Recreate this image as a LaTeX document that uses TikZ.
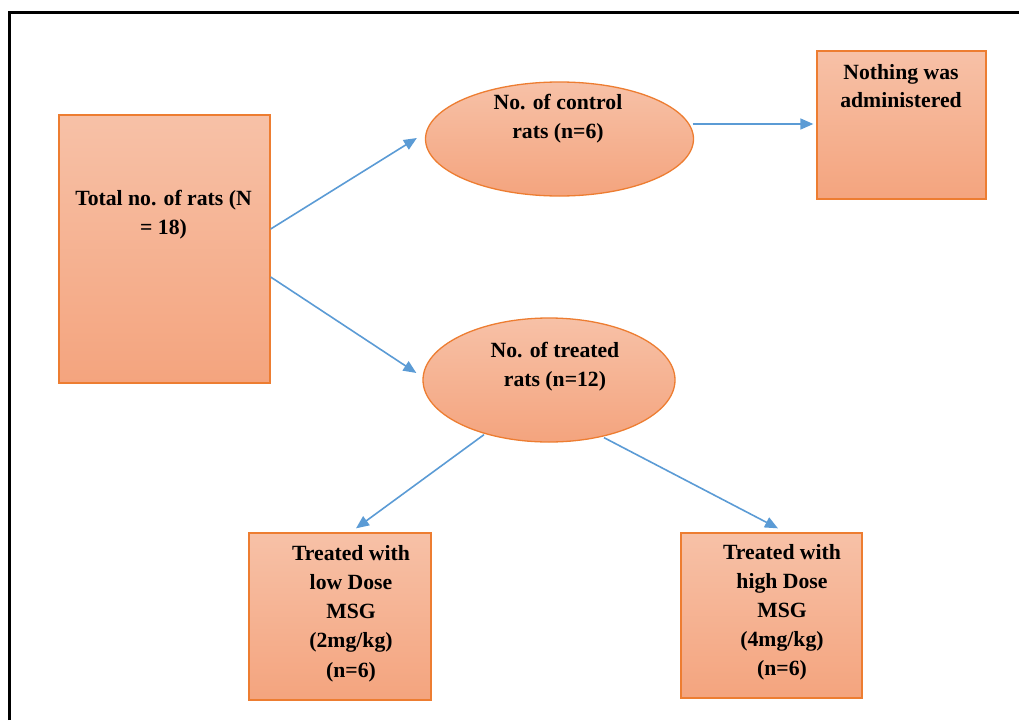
\documentclass[tikz,border=0pt]{standalone}
\usepackage{fontspec}
\setmainfont{Liberation Serif}
\usetikzlibrary{shapes.geometric,arrows.meta,calc}
\definecolor{fillTop}{HTML}{F7C1A7}
\definecolor{fillBot}{HTML}{F4A47E}
\definecolor{edgeOr}{HTML}{ED7D31}
\definecolor{arrowBlue}{HTML}{5B9BD5}
\tikzset{
  boxshape/.style={rectangle, draw=edgeOr, line width=1.3pt, top color=fillTop, bottom color=fillBot, inner sep=0pt},
  ovalshape/.style={ellipse, draw=edgeOr, line width=1.3pt, top color=fillTop, bottom color=fillBot, inner sep=0pt},
  label text/.style={anchor=base, inner sep=0pt, font=\fontsize{21.7}{29}\selectfont\bfseries},
  flow/.style={draw=arrowBlue, line width=1.6pt, -{Triangle[length=13pt,width=11pt]}},
}
\newcommand{\lines}[1]{\begin{tabular}[t]{@{}c@{}}#1\end{tabular}}
\begin{document}
\begin{tikzpicture}[x=1pt,y=-1pt]
\useasboundingbox (0,0) rectangle (1019,720);
% frame
\draw[line width=3pt] (9.5,720) -- (9.5,12.5) -- (1019,12.5);
% shapes
\node[boxshape, minimum width=211pt, minimum height=268pt] (total) at (164.5,249) {};
\node[ovalshape, minimum width=268pt, minimum height=114pt] (ctrl) at (559.5,139) {};
\node[boxshape, minimum width=169pt, minimum height=148pt] (nothing) at (901.5,125) {};
\node[ovalshape, minimum width=252pt, minimum height=124pt] (treated) at (549,380) {};
\node[boxshape, minimum width=182pt, minimum height=167pt] (low) at (340,616.5) {};
\node[boxshape, minimum width=181pt, minimum height=165pt] (high) at (771.5,615.5) {};
% texts
\node[label text] (totalT) at (163.5,205) {\lines{Total no. of rats (N\\= 18)}};
\node[label text] (ctrlT) at (558,109) {\lines{No. of control\\rats (n=6)}};
\node[label text] (treatedT) at (555,357) {\lines{No. of treated\\rats (n=12)}};
\node[label text, font=\fontsize{21.7}{28}\selectfont\bfseries] (nothingT) at (901,79) {\lines{Nothing was\\administered}};
\node[label text, font=\fontsize{21.7}{29.3}\selectfont\bfseries] (lowT) at (351,560) {\lines{Treated with\\low Dose\\MSG\\(2mg/kg)\\(n=6)}};
\node[label text, font=\fontsize{21.7}{29.2}\selectfont\bfseries] (highT) at (782,559) {\lines{Treated with\\high Dose\\MSG\\(4mg/kg)\\(n=6)}};
% connectors
\draw[flow] ($(total.east)+(0,-20)$) -- ($(ctrl.west)+(-8,-1)$);
\draw[flow] ($(total.east)+(0,28)$) -- ($(treated.west)+(-6,-7)$);
\draw[flow] ($(ctrl.east)+(-1.5,-15)$) -- ($(nothing.west)+(-3,-1)$);
\draw[flow] ($(treated.south)+(-65,-8)$) -- ($(low.north)+(16,-4)$);
\draw[flow] ($(treated.south)+(55,-5)$) -- ($(high.north)+(6.5,-4)$);
\end{tikzpicture}
\end{document}
